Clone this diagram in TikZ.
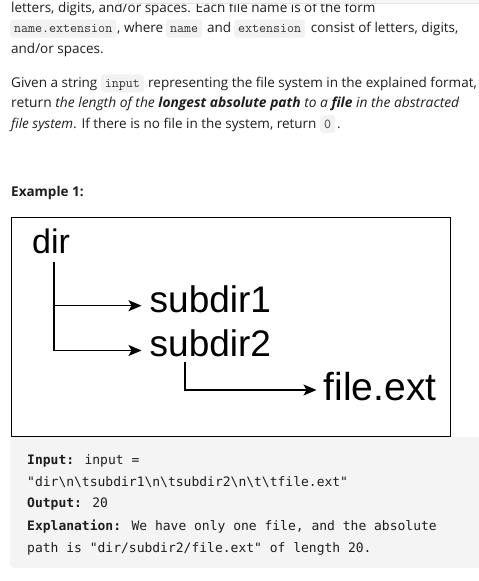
\documentclass[tikz,border=0pt]{standalone}
\usepackage{fontspec}
\setmainfont{Open Sans}
\newfontfamily\dsans{Liberation Sans}
\newfontfamily\cmono{DejaVu Sans Mono}
\newfontfamily\imono{Latin Modern Mono}
\usetikzlibrary{arrows.meta}
\definecolor{txt}{HTML}{1E1E1E}
\definecolor{codebg}{HTML}{F2F2F2}
\definecolor{blockbg}{HTML}{F4F4F4}
\definecolor{codetxt}{HTML}{333333}
\definecolor{bandfill}{HTML}{F7F7F7}
\definecolor{bandline}{HTML}{E2E2E2}
\newcommand\bodyfont{\fontsize{13.5}{16}\selectfont}
\begin{document}
\begin{tikzpicture}[x=1pt,y=-1pt,
  body/.style={inner sep=0pt, anchor=base west, font=\bodyfont, text=txt},
  icode/.style={anchor=base west, fill=codebg, rounded corners=3pt, inner xsep=4pt, inner ysep=0pt,
    text height=13pt, text depth=5pt, font=\imono\fontsize{13.6}{16}\selectfont, text=codetxt},
  codeline/.style={inner sep=0pt, anchor=base west, font=\cmono\fontsize{13}{16}\selectfont, text=txt},
  dlabel/.style={inner sep=0pt, anchor=base west, text=black},
  conn/.style={line width=1.5pt, -{Stealth[length=13pt,width=11pt,inset=3pt]}},
  ]
\useasboundingbox (0,0) rectangle (479,581);
\fill[white] (0,0) rectangle (479,581);

% paragraph 1
\node[body] (l1) at (11,12) {letters, digits, and/or spaces. Each file name is of the form};
\node[icode] (c1) at (10,32.5) {name.extension};
\node[body] (l2a) at (117,32.5) {, where};
\node[icode] (c2) at (166,32.5) {name};
\node[body] (l2b) at (207,32.5) {and};
\node[icode] (c3) at (234,32.5) {extension};
\node[body] (l2c) at (310.7,32.5) {consist of letters, digits,};
\node[body] (l3) at (11,53) {and/or spaces.};

% paragraph 2
\node[body] (p1a) at (11,87.3) {Given a string};
\node[icode] (c4) at (100.7,87.3) {input};
\node[body] (p1b) at (148,87.3) {representing the file system in the explained format,};
\node[body, font=\fontsize{13.8}{16}\selectfont] (p2) at (11,107.5) {return \textit{the length of the \textbf{longest absolute path} to a \textbf{file} in the abstracted}};
\node[body] (p3) at (11,128) {\textit{file system}. If there is no file in the system, return};
\node[icode] (c5) at (320,128) {0};
\node[body] (p3b) at (337,128) {.};

% top band
\fill[bandfill] (118,-1) rectangle (481,3.3);
\draw[bandline, line width=0.6pt] (118,-1) -- (118,3.3) -- (481,3.3);

% example heading
\node[body, font=\bodyfont\bfseries] (ex) at (11,196) {Example 1:};

% diagram frame
\draw[line width=1pt] (11.5,217.5) rectangle (450.5,436.5);

\node[dlabel, font=\dsans\fontsize{34}{34}\selectfont] (dir) at (32,253) {dir};
\node[dlabel, font=\dsans\fontsize{37}{37}\selectfont] (sub1) at (149.5,312) {subdir1};
\node[dlabel, font=\dsans\fontsize{37}{37}\selectfont] (sub2) at (149.5,356) {subdir2};
\node[dlabel, font=\dsans\fontsize{39}{39}\selectfont] (file) at (323.5,400) {file.ext};

\coordinate (stem1) at ([shift={(22,9)}]dir.base west);
\coordinate (stem2) at ([shift={(35.5,5.5)}]sub2.base west);
\draw[conn] (stem1) |- ([shift={(-8,-6.3)}]sub1.base west);
\draw[conn] (stem1) |- ([shift={(-8,-5.5)}]sub2.base west);
\draw[conn] (stem2) |- ([shift={(-7,-10)}]file.base west);

% code block
\fill[blockbg, rounded corners=4pt] (10,437) rectangle (495,568);
\node[codeline] (in1) at (27,464) {\textbf{Input:} input =};
\node[codeline] (in2) at (27,486) {"dir\textbackslash n\textbackslash tsubdir1\textbackslash n\textbackslash tsubdir2\textbackslash n\textbackslash t\textbackslash tfile.ext"};
\node[codeline] (out) at (27,507.5) {\textbf{Output:} 20};
\node[codeline] (ex1) at (27,530) {\textbf{Explanation:} We have only one file, and the absolute};
\node[codeline] (ex2) at (27,552) {path is "dir/subdir2/file.ext" of length 20.};
\end{tikzpicture}
\end{document}
